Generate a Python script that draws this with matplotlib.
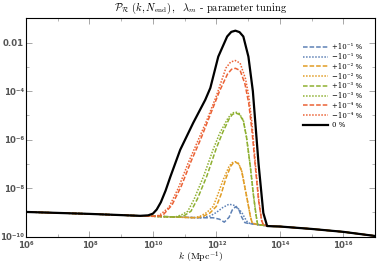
import numpy as np
import matplotlib
matplotlib.use("Agg")
import matplotlib.pyplot as plt

plt.rcParams['mathtext.fontset'] = 'cm'

# log10(k), log10(P)
base_left_k = [6.0, 8.0, 9.6]
base_left_P = [-8.98, -9.06, -9.14]
base_right_k = [13.75, 14.0, 15.0, 16.0, 17.0]
base_right_P = [-9.57, -9.58, -9.68, -9.80, -9.97]

black_k = [9.85, 10.0, 10.12, 10.25, 10.4, 10.55, 10.86, 11.27, 11.65, 11.81, 12.06, 12.34, 12.47, 12.60,
           12.73, 12.85, 13.01, 13.15, 13.33, 13.48, 13.60]
black_P = [-9.12, -9.05, -8.88, -8.58, -8.1, -7.53, -6.42, -5.31, -4.36, -3.87, -2.58, -1.75, -1.56, -1.51,
           -1.57, -1.75, -2.58, -4.0, -7.0, -9.02, -9.56]

red_dot_k = [10.0, 10.2, 10.5, 10.8, 11.1, 11.4, 11.7, 12.0, 12.3, 12.45, 12.6, 12.75, 12.92,
             13.02, 13.12, 13.23, 13.33, 13.42, 13.47]
red_dot_P = [-9.16, -9.12, -8.8, -8.0, -7.0, -6.1, -5.2, -4.2, -3.05, -2.8, -2.74, -2.85, -3.5,
             -4.2, -5.3, -7.0, -8.4, -9.3, -9.5]
red_dash_k = [10.1, 10.3, 10.6, 10.9, 11.2, 11.5, 11.8, 12.1, 12.35, 12.48, 12.6, 12.75, 12.9,
              13.02, 13.12, 13.22, 13.33, 13.43, 13.48]
red_dash_P = [-9.16, -9.13, -8.7, -7.9, -6.9, -6.0, -5.0, -4.0, -3.3, -3.1, -3.06, -3.15, -3.7,
              -4.5, -5.6, -7.0, -8.5, -9.35, -9.5]

green_dot_k = [10.7, 10.9, 11.1, 11.3, 11.6, 11.9, 12.1, 12.35, 12.48, 12.6, 12.72, 12.85, 12.95,
               13.07, 13.17, 13.25, 13.3]
green_dot_P = [-9.19, -9.1, -8.95, -8.45, -7.5, -6.4, -5.75, -5.15, -4.92, -4.86, -4.92, -5.2, -5.9,
               -7.1, -8.3, -9.1, -9.5]
green_dash_k = [10.8, 11.0, 11.2, 11.4, 11.7, 12.0, 12.2, 12.4, 12.5, 12.6, 12.72, 12.85, 12.95,
                13.07, 13.17, 13.25, 13.3]
green_dash_P = [-9.19, -9.12, -8.95, -8.45, -7.5, -6.35, -5.7, -5.15, -4.97, -4.9, -4.96, -5.22, -5.9,
                -7.1, -8.3, -9.1, -9.5]

orange_dot_k = [11.3, 11.5, 11.7, 11.9, 12.05, 12.2, 12.4, 12.5, 12.6, 12.7, 12.8, 12.97, 13.07, 13.13]
orange_dot_P = [-9.22, -9.15, -9.0, -8.75, -8.25, -7.7, -7.1, -6.95, -6.91, -6.98, -7.3, -8.45, -9.15, -9.44]
orange_dash_k = [11.4, 11.6, 11.8, 12.0, 12.15, 12.3, 12.45, 12.53, 12.6, 12.7, 12.8, 12.97, 13.07, 13.13]
orange_dash_P = [-9.22, -9.15, -9.02, -8.75, -8.25, -7.6, -7.1, -6.97, -6.93, -7.0, -7.3, -8.45, -9.15, -9.44]

blue_dot_k = [11.5, 11.8, 12.0, 12.2, 12.4, 12.6, 12.8, 12.95, 13.05]
blue_dot_P = [-9.22, -9.15, -9.0, -8.8, -8.66, -8.72, -9.0, -9.35, -9.45]
blue_dash_k = [11.5, 11.9, 12.1, 12.25, 12.4, 12.5, 12.6, 12.7, 12.8, 12.9, 13.0]
blue_dash_P = [-9.22, -9.22, -9.28, -9.4, -9.2, -8.9, -8.77, -8.85, -9.2, -9.42, -9.45]

tail_k = [13.3, 13.6]
tail_P = [-9.5, -9.55]

labels = ["+10⁻¹ %", "\u221210⁻¹ %", "+10⁻² %", "\u221210⁻² %",
          "+10⁻³ %", "\u221210⁻³ %", "+10⁻⁴ %", "\u221210⁻⁴ %", "0 %"]

xtick_vals = [1e6, 1e8, 1e10, 1e12, 1e14, 1e16]
xtick_labels = ["10⁶", "10⁸", "10¹⁰", "10¹²", "10¹⁴", "10¹⁶"]
ytick_vals = [1e-10, 1e-8, 1e-6, 1e-4, 1e-2]
ytick_labels = ["10⁻¹⁰", "10⁻⁸", "10⁻⁶", "10⁻⁴", "0.01"]

blue = '#5E81B5'
orange = '#E19C24'
green = '#8FB032'
red = '#EB6235'
dash = (3.0, 1.3)
dot = (1.0, 1.0)

series = [
    (blue_dash_k, blue_dash_P, blue, dash),
    (blue_dot_k, blue_dot_P, blue, dot),
    (orange_dash_k, orange_dash_P, orange, dash),
    (orange_dot_k, orange_dot_P, orange, dot),
    (green_dash_k, green_dash_P, green, dash),
    (green_dot_k, green_dot_P, green, dot),
    (red_dash_k, red_dash_P, red, dash),
    (red_dot_k, red_dot_P, red, dot),
]


def full(k, P):
    kk = list(base_left_k) + list(k)
    pp = list(base_left_P) + list(P)
    for a, b in zip(tail_k, tail_P):
        if a > kk[-1]:
            kk.append(a)
            pp.append(b)
    kk += base_right_k
    pp += base_right_P
    return 10 ** np.array(kk), 10 ** np.array(pp)


fig = plt.figure(figsize=(3.79, 2.70), dpi=100)
ax = fig.add_axes([26 / 379, 1 - 236.7 / 270, 349 / 379, 218.4 / 270])

for (k, P, c, d), lab in zip(series, labels):
    x, y = full(k, P)
    ax.plot(x, y, color=c, lw=1.1, dashes=d, label=lab)

x, y = full(black_k, black_P)
ax.plot(x, y, color='black', lw=1.6, label=labels[-1])

ax.set_xscale('log')
ax.set_yscale('log')
ax.set_xlim(1e6, 1e17)
ax.set_ylim(1e-10, 1e-1)

ax.set_xticks(xtick_vals)
ax.set_xticklabels(xtick_labels)
ax.set_yticks(ytick_vals)
ax.set_yticklabels(ytick_labels)
ax.xaxis.set_minor_locator(matplotlib.ticker.FixedLocator([10.0 ** i for i in range(7, 17, 2)]))
ax.yaxis.set_minor_locator(matplotlib.ticker.FixedLocator([10.0 ** i for i in range(-9, -1, 2)]))
ax.xaxis.set_minor_formatter(matplotlib.ticker.NullFormatter())
ax.yaxis.set_minor_formatter(matplotlib.ticker.NullFormatter())
ax.tick_params(which='both', direction='in', top=True, right=True, color='#999999',
               labelsize=6.2, labelcolor='#555555', pad=1.5)
ax.tick_params(axis='x', which='major', pad=3)
ax.tick_params(which='major', length=4, width=0.6)
ax.tick_params(which='minor', length=2, width=0.5)
for lab in ax.get_yticklabels() + ax.get_xticklabels():
    lab.set_fontweight('bold')
    lab.set_family('DejaVu Sans')
for s in ax.spines.values():
    s.set_linewidth(0.8)

ax.set_title(r"$\mathcal{P}_{\mathcal{R}}\ (k, N_{\rm end})\,,\ \ \lambda_m$ - parameter tuning",
             fontsize=7.5, family='cmr10', pad=5)
ax.set_xlabel(r"$k$ (Mpc$^{-1}$)", fontsize=7, family='cmr10', labelpad=0)

ax.legend(loc='upper left', bbox_to_anchor=(0.793, 0.885), frameon=False,
          prop={'family': ['DejaVu Serif'], 'size': 5.0}, handlelength=3.6, handletextpad=0.65,
          labelspacing=0.25, borderpad=0, borderaxespad=0)

fig.savefig('out.png', dpi=100)
